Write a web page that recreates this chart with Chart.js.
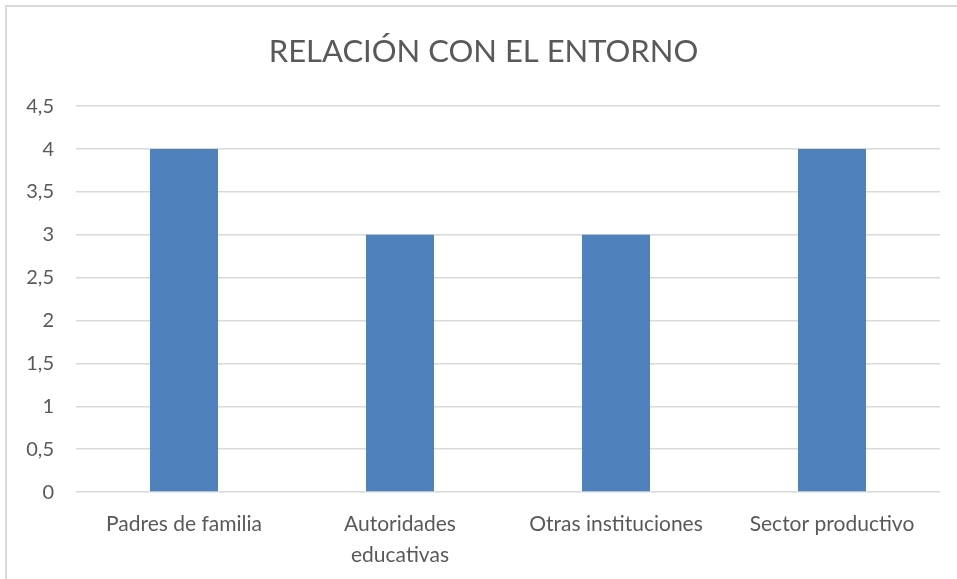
<!DOCTYPE html>
<html>
<head>
<meta charset="utf-8">
<script src="https://cdn.jsdelivr.net/npm/chart.js@4/dist/chart.umd.min.js"></script>
<style>
  html, body { margin: 0; padding: 0; background: #fff; }
  #wrap { position: relative; width: 957px; height: 579px; overflow: hidden; }
  #frame { position: absolute; left: 5px; top: 5px; width: 970px; height: 600px; border: 2px solid #d9d9d9; box-sizing: border-box; }
  #c { position: absolute; left: 0; top: 0; }
</style>
</head>
<body>
<div id="wrap">
  <div id="frame"></div>
  <canvas id="c" width="957" height="579"></canvas>
</div>
<script>
// Relación con el entorno
const categories = ['Padres de familia', ['Autoridades', 'educativas'], 'Otras instituciones', 'Sector productivo'];
const values = [4, 3, 3, 4];
const yTicks = [0, 0.5, 1, 1.5, 2, 2.5, 3, 3.5, 4, 4.5];

const textColor = '#595959';
const font = "Lato, 'Open Sans', sans-serif";

const ctx = document.getElementById('c').getContext('2d');
const chart = new Chart(ctx, {
    type: 'bar',
    data: {
        labels: categories,
        datasets: [{
            label: 'Relación con el entorno',
            data: values,
            yAxisID: 'y',
            backgroundColor: '#4f81bd',
            borderWidth: 0,
            barPercentage: 0.315,
            categoryPercentage: 1,
        }]
    },
    options: {
        responsive: false,
        animation: false,
        layout: { padding: { left: 10, right: 0, top: 22, bottom: 0 } },
        plugins: {
            legend: { display: false },
            tooltip: { enabled: false },
            title: {
                display: true,
                text: 'RELACIÓN CON EL ENTORNO',
                color: textColor,
                font: { family: font, size: 31, weight: 'normal' },
                padding: { top: 11, bottom: 36 },
            },
        },
        scales: {
            x: {
                grid: { display: false },
                border: { display: false },
                ticks: {
                    color: textColor,
                    font: { family: font, size: 21, lineHeight: 1.45 },
                    padding: 9,
                    maxRotation: 0,
                },
            },
            y: {
                min: 0,
                max: 4.5,
                afterBuildTicks: function(scale) {
                    scale.ticks = yTicks.map(v => ({ value: v }));
                },
                afterFit: function(scale) {
                    scale.width = 66;
                },
                grid: { color: '#d9d9d9', lineWidth: 1.5, drawTicks: false },
                border: { display: false },
                ticks: {
                    color: textColor,
                    font: { family: font, size: 20 },
                    padding: 22,
                    callback: function(value) {
                        return String(value).replace('.', ',');
                    }
                },
            },
            // empty right-hand spacer so the plot ends where the reference does
            yRight: {
                position: 'right',
                grid: { display: false },
                border: { display: false },
                ticks: { display: false },
                afterFit: function(scale) {
                    scale.width = 17;
                },
            },
        },
    },
});
</script>
</body>
</html>
